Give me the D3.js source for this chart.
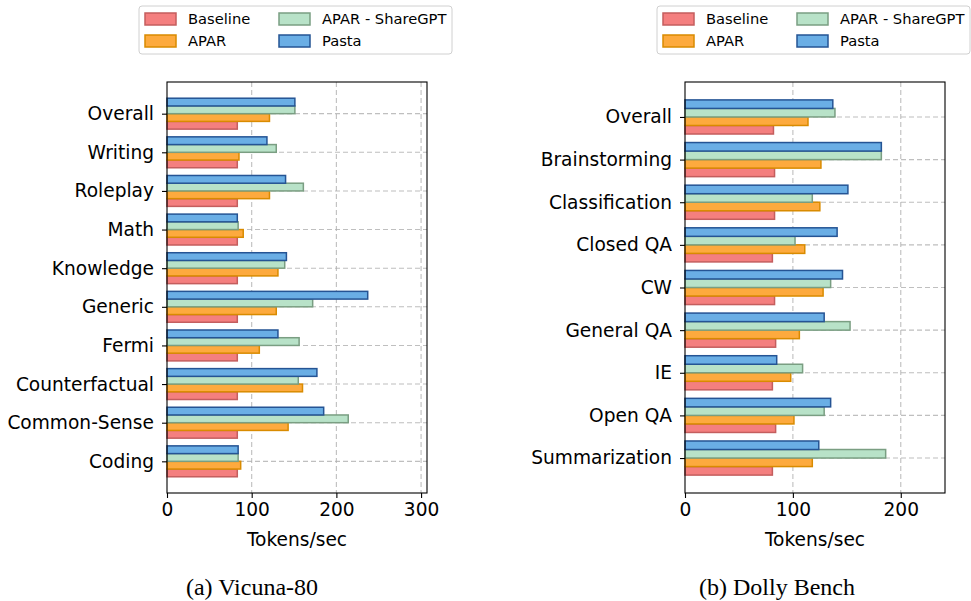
<!DOCTYPE html>
<html><head><meta charset="utf-8">
<script src="https://cdn.jsdelivr.net/npm/d3@7"></script>
<style>
body{margin:0;background:#fff;}
svg{display:block;font-family:"DejaVu Sans",sans-serif;}
</style></head>
<body><svg id="c" width="971" height="601"></svg>
<script>
const seriesNames = ["Baseline", "APAR", "APAR - ShareGPT", "Pasta"];
const fills = ["#F47F7F", "#FDAA3E", "#B8E2C8", "#6AAEE5"];
const strokes = ["#C45E5E", "#D98B00", "#7A9E82", "#255494"];

const vicunaCats = ["Overall","Writing","Roleplay","Math","Knowledge","Generic","Fermi","Counterfactual","Common-Sense","Coding"];
const vicunaBaseline = [83, 83, 83, 83, 83, 83, 83, 83, 83, 83];
const vicunaApar = [121, 85, 121, 90, 131, 129, 109, 160, 143, 87];
const vicunaShareGPT = [151, 129, 161, 84, 139, 172, 156, 155, 214, 84];
const vicunaPasta = [151, 118, 140, 83, 141, 237, 131, 177, 185, 84];
const vicunaTicks = [0, 100, 200, 300];

const dollyCats = ["Overall","Brainstorming","Classification","Closed QA","CW","General QA","IE","Open QA","Summarization"];
const dollyBaseline = [82, 83, 83, 81, 83, 84, 81, 84, 81];
const dollyApar = [114, 126, 125, 111, 128, 106, 98, 101, 118];
const dollyShareGPT = [139, 182, 118, 102, 135, 153, 109, 129, 186];
const dollyPasta = [137, 182, 151, 141, 146, 129, 85, 135, 124];
const dollyTicks = [0, 100, 200];

const svg = d3.select("#c");
const FS = 18.6;

function panel(cfg){
  const g = svg.append("g");
  const x = d3.scaleLinear().domain([0, cfg.xmax]).range([cfg.x0, cfg.x1]);
  const n = cfg.cats.length;
  const y = d3.scaleLinear().domain([-0.82, n - 1 + 0.82]).range([cfg.y0, cfg.y1]);
  const step = y(1) - y(0);
  const bh = 0.2;
  // grid
  g.append("g").selectAll("line").data(cfg.ticks.slice(1)).join("line")
    .attr("x1", d => x(d)).attr("x2", d => x(d)).attr("y1", cfg.y0).attr("y2", cfg.y1)
    .attr("stroke", "#b0b0b0").attr("stroke-width", 1.1).attr("stroke-dasharray", "5,3").attr("opacity", 0.8);
  g.append("g").selectAll("line").data(d3.range(n)).join("line")
    .attr("x1", cfg.x0).attr("x2", cfg.x1).attr("y1", d => y(d)).attr("y2", d => y(d))
    .attr("stroke", "#b0b0b0").attr("stroke-width", 1.1).attr("stroke-dasharray", "5,3").attr("opacity", 0.8);
  // bars: Pasta on top, Baseline at bottom
  const series = [cfg.base, cfg.apar, cfg.share, cfg.pasta];
  series.forEach((vals, si) => {
    const off = (1 - si) * bh;
    g.append("g").selectAll("rect").data(vals).join("rect")
      .attr("x", x(0))
      .attr("y", (d, i) => y(i + off))
      .attr("width", d => x(d) - x(0))
      .attr("height", bh * step)
      .attr("fill", fills[si]).attr("stroke", strokes[si]).attr("stroke-width", 1.5);
  });
  // axes
  const xa = g.append("g").attr("transform", `translate(0,${cfg.y1})`)
    .call(d3.axisBottom(x).tickValues(cfg.ticks).tickSize(5).tickPadding(5).tickSizeOuter(0));
  xa.select(".domain").remove();
  xa.selectAll("text").attr("font-size", FS).attr("fill", "#000").attr("font-family", "DejaVu Sans");
  xa.selectAll("line").attr("stroke", "#000").attr("stroke-width", 1.1);
  const ya = g.append("g").attr("transform", `translate(${cfg.x0},0)`)
    .call(d3.axisLeft(y).tickValues(d3.range(n)).tickFormat(i => cfg.cats[i]).tickSize(5).tickPadding(8).tickSizeOuter(0));
  ya.select(".domain").remove();
  ya.selectAll("text").attr("font-size", FS).attr("fill", "#000").attr("font-family", "DejaVu Sans");
  ya.selectAll("line").attr("stroke", "#000").attr("stroke-width", 1.1);
  // frame
  g.append("rect").attr("x", cfg.x0).attr("y", cfg.y0).attr("width", cfg.x1 - cfg.x0).attr("height", cfg.y1 - cfg.y0)
    .attr("fill", "none").attr("stroke", "#000").attr("stroke-width", 1.1);
  g.append("text").attr("x", (cfg.x0 + cfg.x1) / 2).attr("y", 546).attr("text-anchor", "middle")
    .attr("font-size", FS).text("Tokens/sec");
  g.append("text").attr("x", cfg.capX).attr("y", 595).attr("text-anchor", "middle")
    .attr("font-family", "Liberation Serif").attr("font-size", 24).text(cfg.caption);
  // legend
  const lx = cfg.legX, ly = 6;
  const lg = g.append("g");
  lg.append("rect").attr("x", lx).attr("y", ly).attr("width", 313).attr("height", 48).attr("rx", 3)
    .attr("fill", "#fff").attr("stroke", "#d0d0d0").attr("stroke-width", 1);
  [0, 1, 2, 3].forEach((si) => {
    const col = si < 2 ? 0 : 1, row = si % 2;
    const px = lx + 6 + col * 134, py = ly + 7 + row * 22;
    lg.append("rect").attr("x", px).attr("y", py).attr("width", 31).attr("height", 12)
      .attr("fill", fills[si]).attr("stroke", strokes[si]).attr("stroke-width", 1.5);
    lg.append("text").attr("x", px + 43).attr("y", py + 11).attr("font-size", 14.7).text(seriesNames[si]);
  });
}

panel({cats: vicunaCats, base: vicunaBaseline, apar: vicunaApar, share: vicunaShareGPT, pasta: vicunaPasta,
  ticks: vicunaTicks, xmax: 307, x0: 167, x1: 427, y0: 82, y1: 493, legX: 139, caption: "(a) Vicuna-80", capX: 252});
panel({cats: dollyCats, base: dollyBaseline, apar: dollyApar, share: dollyShareGPT, pasta: dollyPasta,
  ticks: dollyTicks, xmax: 241, x0: 685, x1: 945, y0: 82, y1: 493, legX: 657, caption: "(b) Dolly Bench", capX: 777});
</script></body></html>
